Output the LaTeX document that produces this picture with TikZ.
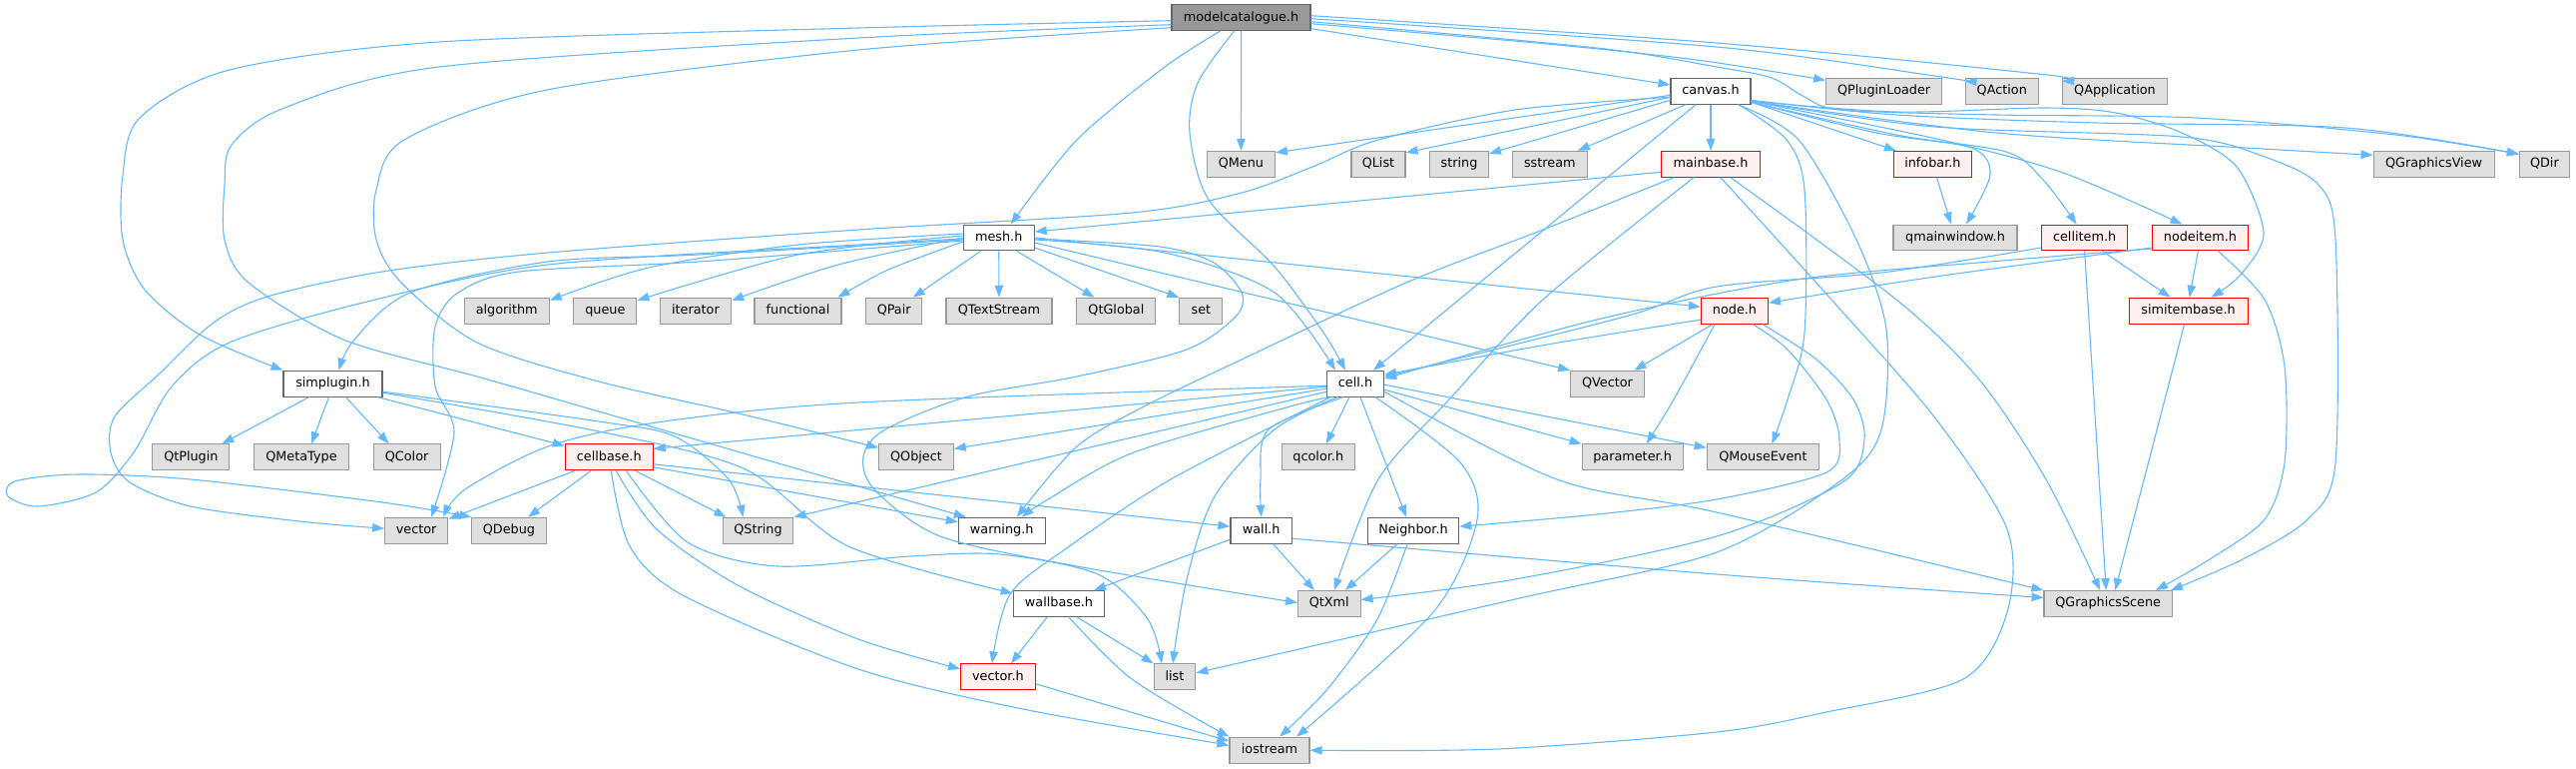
\documentclass[tikz,border=0pt]{standalone}
\usepackage{fontspec}
\setmainfont{DejaVu Sans}
\usepackage{tikz}
\usetikzlibrary{arrows.meta,positioning}
\definecolor{edgeblue}{HTML}{63B8FF}
\definecolor{hdrline}{HTML}{666666}
\definecolor{sysline}{HTML}{999999}
\definecolor{sysfill}{HTML}{E0E0E0}
\definecolor{truncfill}{HTML}{FFF0F0}
\definecolor{rootfill}{HTML}{999999}
\begin{document}
\begin{tikzpicture}[x=1pt,y=-1pt,
  every node/.style={font=\fontsize{12.8}{15}\selectfont,minimum height=25.8pt,inner sep=0pt,line width=1.1pt,text height=9.5pt,text depth=2.6pt},
  hdrbox/.style={draw=hdrline,fill=white},
  sysbox/.style={draw=sysline,fill=sysfill},
  redbox/.style={draw=red,fill=truncfill},
  rootbox/.style={draw=hdrline,fill=rootfill},
  incl/.style={draw=edgeblue,line width=1.1pt,-{Triangle[length=12pt,width=8.5pt]}}]
  \useasboundingbox (0,0) rectangle (2581,769);
  \node[rootbox,minimum width=139pt] (mc) at (1243.5,17.7) {modelcatalogue.h};
  \node[hdrbox,minimum width=80pt] (canvas) at (1714,91.3) {canvas.h};
  \node[sysbox,minimum width=116pt] (qpluginloader) at (1887.6,91.3) {QPluginLoader};
  \node[sysbox,minimum width=73.5pt] (qaction) at (2005.8,91.3) {QAction};
  \node[sysbox,minimum width=105pt] (qapplication) at (2119,91.3) {QApplication};
  \node[sysbox,minimum width=68pt] (qmenu) at (1243.4,164.3) {QMenu};
  \node[sysbox,minimum width=54pt] (qlist) at (1381,164.3) {QList};
  \node[sysbox,minimum width=59pt] (string) at (1462,164.3) {string};
  \node[sysbox,minimum width=75pt] (sstream) at (1552.8,164.3) {sstream};
  \node[redbox,minimum width=98.6pt] (mainbase) at (1714,164.3) {mainbase.h};
  \node[redbox,minimum width=78pt] (infobar) at (1936.4,164.3) {infobar.h};
  \node[sysbox,minimum width=121pt] (qgraphicsview) at (2438.6,164.3) {QGraphicsView};
  \node[sysbox,minimum width=50pt] (qdir) at (2549.4,164.3) {QDir};
  \node[hdrbox,minimum width=71pt] (mesh) at (1000.7,238) {mesh.h};
  \node[sysbox,minimum width=124pt] (qmainwindow) at (1959,238) {qmainwindow.h};
  \node[redbox,minimum width=85.6pt] (cellitem) at (2088.6,238) {cellitem.h};
  \node[redbox,minimum width=95.5pt] (nodeitem) at (2204.4,238) {nodeitem.h};
  \node[sysbox,minimum width=85pt] (algorithm) at (507.7,311.2) {algorithm};
  \node[sysbox,minimum width=63pt] (queue) at (606.4,311.2) {queue};
  \node[sysbox,minimum width=71pt] (iterator) at (697,311.2) {iterator};
  \node[sysbox,minimum width=87pt] (functional) at (799.5,311.2) {functional};
  \node[sysbox,minimum width=56pt] (qpair) at (895.7,311.2) {QPair};
  \node[sysbox,minimum width=106pt] (qtextstream) at (1001,311.2) {QTextStream};
  \node[sysbox,minimum width=79pt] (qtglobal) at (1118.4,311.2) {QtGlobal};
  \node[sysbox,minimum width=43pt] (set) at (1203.4,311.2) {set};
  \node[redbox,minimum width=67pt] (nodeh) at (1738,311.2) {node.h};
  \node[redbox,minimum width=119pt] (simitembase) at (2192.6,311.2) {simitembase.h};
  \node[hdrbox,minimum width=99pt] (simplugin) at (333.5,384.2) {simplugin.h};
  \node[hdrbox,minimum width=57pt] (cell) at (1358,384.2) {cell.h};
  \node[sysbox,minimum width=73.5pt] (qvector) at (1610.5,384.2) {QVector};
  \node[sysbox,minimum width=77pt] (qtplugin) at (191.4,457.8) {QtPlugin};
  \node[sysbox,minimum width=95pt] (qmetatype) at (302,457.8) {QMetaType};
  \node[sysbox,minimum width=67pt] (qcolor) at (407.6,457.8) {QColor};
  \node[redbox,minimum width=88pt] (cellbase) at (610.3,457.8) {cellbase.h};
  \node[sysbox,minimum width=74.6pt] (qobject) at (918,457.8) {QObject};
  \node[sysbox,minimum width=73.5pt] (qcolorh) at (1320.8,457.8) {qcolor.h};
  \node[sysbox,minimum width=101pt] (parameter) at (1635.6,457.8) {parameter.h};
  \node[sysbox,minimum width=112.4pt] (qmouseevent) at (1766.4,457.8) {QMouseEvent};
  \node[sysbox,minimum width=63pt] (vector) at (417.2,531.2) {vector};
  \node[sysbox,minimum width=74.6pt] (qdebug) at (510,531.2) {QDebug};
  \node[sysbox,minimum width=70.7pt] (qstring) at (759.5,531.2) {QString};
  \node[hdrbox,minimum width=86.7pt] (warning) at (1003.7,531.2) {warning.h};
  \node[hdrbox,minimum width=61.5pt] (wall) at (1263.7,531.2) {wall.h};
  \node[hdrbox,minimum width=91.6pt] (neighbor) at (1416,531.2) {Neighbor.h};
  \node[hdrbox,minimum width=91.6pt] (wallbase) at (1061,604.5) {wallbase.h};
  \node[sysbox,minimum width=62.5pt] (qtxml) at (1331.8,604.5) {QtXml};
  \node[sysbox,minimum width=128.4pt] (qgraphicsscene) at (2112.2,604.5) {QGraphicsScene};
  \node[redbox,minimum width=74.6pt] (vectorh) at (999.9,677.8) {vector.h};
  \node[sysbox,minimum width=41.7pt] (list) at (1177,677.8) {list};
  \node[sysbox,minimum width=80pt] (iostream) at (1272,751.2) {iostream};

  \draw[incl] plot[smooth] coordinates {([yshift=-3pt]mc.west) (860,28) (440,42) (230,70) (140,118) (123,175) (123,240) (145,290) (200,335) (simplugin.north west)};
  \draw[incl] plot[smooth] coordinates {([yshift=-7pt]mc.west) (860,38) (440,67) (285,108) (232,145) (225,185) (225,240) (249,283) (344,340) (478,377) (600,412) (780,464) ([xshift=8pt]warning.north west)};
  \draw[incl] plot[smooth] coordinates {([yshift=-10pt]mc.west) (860,50) (548,90) (405,140) (377,190) (377,240) (402,283) (478,343) (600,382) (740,414) ([yshift=-4pt]qobject.north west)};
  \draw[incl] plot[smooth] coordinates {([xshift=-21pt]mc.south) (1167,67) (1079,140) ([xshift=12pt]mesh.north)};
  \draw[incl] plot[smooth] coordinates {([xshift=-7pt]mc.south) (1200,83) (1192,133) (1211,200) (1277,267) (1326,333) ([xshift=-10pt]cell.north)};
  \draw[incl] (mc) -- (qmenu);
  \draw[incl] (mc) -- (canvas);
  \draw[incl] plot[smooth] coordinates {([yshift=-6pt]mc.east) (1550,44) (1700,60) ([yshift=11pt]qpluginloader.west)};
  \draw[incl] plot[smooth] coordinates {([yshift=-1pt]mc.east) (1720,47) (1945,77) ([yshift=10pt]qaction.west)};
  \draw[incl] plot[smooth] coordinates {([yshift=2pt]mc.east) (1720,43) (2051,75) ([yshift=10pt]qapplication.west)};
  \draw[incl] plot[smooth] coordinates {([yshift=-4pt]mc.east) (1600,48) (1720,67) (1775,78) (1808,97) (1846,110) (2000,115) (2200,118) (2400,135) ([yshift=10pt]qdir.west)};

  \draw[incl] ([yshift=-4pt]canvas.west) -- ([yshift=-2pt]qmenu.north east);
  \draw[incl] ([yshift=-6pt]canvas.west) -- ([yshift=-2pt]qlist.north east);
  \draw[incl] ([yshift=-9pt]canvas.west) -- ([yshift=-3pt]string.north east);
  \draw[incl] ([xshift=-25pt]canvas.south) -- ([xshift=-10pt]sstream.north east);
  \draw[incl] (canvas) -- (mainbase);
  \draw[incl] plot[smooth] coordinates {([yshift=-6pt]canvas.west) (1518,110) (1381,140) (1315,167) (1244,193) (1134,213) (860,230) (549,253) (383,272) (268,297) (214,323) (161,373) (115,417) (111,453) (130,483) (191,507) (300,522) ([yshift=2pt]vector.west)};
  \draw[incl] ([yshift=-11pt]canvas.east) -- ([xshift=3pt]infobar.north west);
  \draw[incl] plot[smooth] coordinates {([yshift=-11pt]canvas.east) (1880,133) (1975,148) (1994,175) ([xshift=11pt]qmainwindow.north)};
  \draw[incl] plot[smooth] coordinates {([yshift=-11pt]canvas.east) (1900,135) (2010,152) (2047,180) ([xshift=-8pt]cellitem.north)};
  \draw[incl] plot[smooth] coordinates {([yshift=-10pt]canvas.east) (1945,140) (2067,173) ([xshift=-18pt]nodeitem.north)};
  \draw[incl] plot[smooth] coordinates {([yshift=-10pt]canvas.east) (1900,112) (2049,108) (2120,113) (2186,133) (2241,167) (2268,233) (2245,275) ([xshift=23pt]simitembase.north)};
  \draw[incl] plot[smooth] coordinates {([yshift=-10pt]canvas.east) (2000,133) (2250,148) ([yshift=9pt]qgraphicsview.west)};
  \draw[incl] plot[smooth] coordinates {([yshift=-9pt]canvas.east) (1900,115) (2100,123) (2350,128) ([yshift=10pt]qdir.west)};
  \draw[incl] plot[smooth] coordinates {([yshift=-10pt]canvas.east) (1939,127) (2186,137) (2269,157) (2323,185) (2340,240) (2340,463) (2312,520) (2247,560) ([xshift=-2pt]qgraphicsscene.north east)};
  \draw[incl] plot[smooth] coordinates {([xshift=28pt]canvas.south) (1790,140) (1808,190) (1808,333) (1791,400) ([xshift=9pt]qmouseevent.north)};
  \draw[incl] ([xshift=-15pt]canvas.south) -- ([xshift=18pt]cell.north);
  \draw[incl] plot[smooth] coordinates {([xshift=27pt]canvas.south) (1802,140) (1860,240) (1890,330) (1885,430) (1846,480) (1720,553) (1518,600) ([yshift=4pt]list.east)};

  \draw[incl] ([yshift=-8pt]mainbase.west) -- ([yshift=6pt]mesh.east);
  \draw[incl] plot[smooth] coordinates {([xshift=-37pt]mainbase.south) (1546,230) (1409,283) (1244,360) (1150,405) (1079,447) ([xshift=15pt]warning.north)};
  \draw[incl] plot[smooth] coordinates {([xshift=-17pt]mainbase.south) (1546,300) (1452,400) (1381,480) ([xshift=5pt]qtxml.north)};
  \draw[incl] plot[smooth] coordinates {([xshift=20pt]mainbase.south) (1900,300) (1983,380) (2050,480) ([xshift=-8pt]qgraphicsscene.north)};
  \draw[incl] plot[smooth] coordinates {([xshift=10pt]mainbase.south) (1835,300) (1940,420) (2011,530) (2011,613) (1967,680) (1830,713) (1720,733) (1500,750) (iostream.east)};
  \draw[incl] (infobar) -- (qmainwindow);

  \draw[incl] plot[smooth] coordinates {([yshift=-10pt]cellitem.west) (1885,273) (1720,287) (1628,317) ([yshift=7pt]cell.east)};
  \draw[incl] ([xshift=18pt]cellitem.south) -- ([xshift=-18pt]simitembase.north);
  \draw[incl] (cellitem.south) -- ([xshift=-2pt]qgraphicsscene.north);
  \draw[incl] plot[smooth] coordinates {([yshift=-10pt]nodeitem.west) (1939,277) ([yshift=8pt]nodeh.east)};
  \draw[incl] plot[smooth] coordinates {([yshift=-11pt]nodeitem.west) (1994,262) (1800,280) (1600,320) ([yshift=5pt]cell.east)};
  \draw[incl] ([xshift=-2pt]nodeitem.south) -- ([xshift=1pt]simitembase.north);
  \draw[incl] plot[smooth] coordinates {([xshift=18pt]nodeitem.south) (2269,300) (2289,367) (2289,463) (2269,520) (2214,560) ([xshift=-17pt]qgraphicsscene.north east)};
  \draw[incl] ([xshift=-4pt]simitembase.south) -- ([xshift=7pt]qgraphicsscene.north);

  \draw[incl] ([xshift=-22pt]nodeh.south) -- ([xshift=27pt]qvector.north);
  \draw[incl] plot[smooth] coordinates {([yshift=-9pt]nodeh.west) (1550,345) ([yshift=9pt]cell.east)};
  \draw[incl] plot[smooth] coordinates {([xshift=-20pt]nodeh.south) (1677,400) ([xshift=14pt]parameter.north)};
  \draw[incl] plot[smooth] coordinates {([xshift=18pt]nodeh.south) (1791,350) (1830,400) (1843,440) (1830,473) (1720,500) (1600,515) ([yshift=4pt]neighbor.east)};
  \draw[incl] plot[smooth] coordinates {([xshift=28pt]nodeh.south) (1820,360) (1857,400) (1868,440) (1846,483) (1720,537) (1518,580) ([yshift=4pt]qtxml.east)};

  \draw[incl] ([yshift=-3pt]cell.west) -- ([yshift=-5pt]cellbase.north east);
  \draw[incl] ([yshift=-5pt]cell.west) -- ([yshift=-5pt]qobject.north east);
  \draw[incl] ([yshift=-8pt]cell.west) -- (qstring.north east);
  \draw[incl] plot[smooth] coordinates {([xshift=-22pt]cell.south) (1300,405) (1136,453) (1050,500) ([xshift=20pt]warning.north)};
  \draw[incl] plot[smooth] coordinates {([yshift=-2pt]cell.west) (860,403) (658,423) (549,447) (466,490) ([xshift=27pt]vector.north)};
  \draw[incl] plot[smooth] coordinates {([xshift=-25pt]cell.south) (1173,480) (1070,548) (1012,595) ([xshift=-6pt]vectorh.north)};
  \draw[incl] plot[smooth] coordinates {([xshift=-18pt]cell.south) (1277,430) (1217,497) (1189,580) ([xshift=-2pt]list.north)};
  \draw[incl] plot[smooth] coordinates {([xshift=-12pt]cell.south) (1271,430) (1263,480) (wall.north)};
  \draw[incl] ([xshift=-6pt]cell.south) -- ([xshift=8pt]qcolorh.north);
  \draw[incl] ([xshift=5pt]cell.south) -- ([xshift=-7pt]neighbor.north);
  \draw[incl] plot[smooth] coordinates {([xshift=20pt]cell.south) (1463,463) (1480,520) (1436,613) ([xshift=27pt]iostream.north)};
  \draw[incl] ([yshift=-6pt]cell.east) -- (parameter.north west);
  \draw[incl] ([yshift=-1pt]cell.east) -- ([yshift=-4pt]qmouseevent.north west);
  \draw[incl] plot[smooth] coordinates {([yshift=-8pt]cell.east) (1560,480) (1720,513) (qgraphicsscene.north west)};

  \draw[incl] plot[smooth] coordinates {([yshift=4pt]mesh.west) (800,245) (650,268) ([yshift=-3pt]algorithm.north east)};
  \draw[incl] plot[smooth] coordinates {([yshift=2pt]mesh.west) (800,255) ([yshift=-3pt]queue.north east)};
  \draw[incl] plot[smooth] coordinates {(mesh.west) (840,265) ([yshift=-3pt]iterator.north east)};
  \draw[incl] plot[smooth] coordinates {([yshift=-4pt]mesh.west) (890,270) ([xshift=-4pt]functional.north east)};
  \draw[incl] ([xshift=-18pt]mesh.south) -- ([xshift=19pt]qpair.north);
  \draw[incl] (mesh) -- (qtextstream);
  \draw[incl] ([xshift=18pt]mesh.south) -- ([xshift=-22pt]qtglobal.north);
  \draw[incl] ([yshift=-10pt]mesh.east) -- (set.north west);
  \draw[incl] plot[smooth] coordinates {([yshift=-2pt]mesh.west) (700,255) (549,262) (411,293) (355,340) ([xshift=6pt]simplugin.north)};
  \draw[incl] plot[smooth] coordinates {([yshift=-3pt]mesh.west) (700,262) (520,272) (459,293) (436,327) (436,387) (455,433) ([xshift=15pt]vector.north)};
  \draw[incl] plot[smooth] coordinates {([yshift=-1pt]mesh.west) (860,245) (549,265) (364,303) (230,343) (172,387) (134,453) (96,493) (38,507) (8,497) (15,482) (77,475) (191,480) (383,503) (qdebug.north west)};
  \draw[incl] plot[smooth] coordinates {([yshift=-2pt]mesh.east) (1167,253) (1277,293) ([xshift=-20pt]cell.north)};
  \draw[incl] ([yshift=-5pt]mesh.east) -- (qvector.north west);
  \draw[incl] (mesh.east) -- ([yshift=4pt]nodeh.west);
  \draw[incl] plot[smooth] coordinates {([yshift=-1pt]mesh.east) (1162,247) (1216,263) (1244,293) (1238,317) (1189,350) (1079,377) (970,397) (887,430) (865,457) (876,490) (942,537) (1079,567) ([yshift=1pt]qtxml.west)};

  \draw[incl] ([xshift=-24pt]simplugin.south) -- ([xshift=31pt]qtplugin.north);
  \draw[incl] ([xshift=-4pt]simplugin.south) -- ([xshift=10pt]qmetatype.north);
  \draw[incl] ([xshift=13pt]simplugin.south) -- ([xshift=-18pt]qcolor.north);
  \draw[incl] ([xshift=45pt]simplugin.south) -- ([yshift=-2pt]cellbase.north west);
  \draw[incl] plot[smooth] coordinates {([yshift=-8pt]simplugin.east) (600,422) (676,437) (730,480) ([xshift=-15pt]qstring.north)};
  \draw[incl] plot[smooth] coordinates {([yshift=-9pt]simplugin.east) (600,432) (747,470) (850,547) ([yshift=-3pt]wallbase.north west)};

  \draw[incl] ([xshift=-34pt]cellbase.south) -- ([yshift=-2pt]vector.north east);
  \draw[incl] ([xshift=-18pt]cellbase.south) -- ([xshift=19pt]qdebug.north);
  \draw[incl] ([xshift=26pt]cellbase.south) -- ([xshift=-32pt]qstring.north);
  \draw[incl] ([yshift=-10pt]cellbase.east) -- ([yshift=-5pt]warning.north west);
  \draw[incl] ([yshift=-7pt]cellbase.east) -- ([yshift=4pt]wall.west);
  \draw[incl] plot[smooth] coordinates {([xshift=17pt]cellbase.south) (689,543) (779,567) (912,557) (1002,555) (1100,575) (1150,620) ([xshift=-13pt]list.north)};
  \draw[incl] plot[smooth] coordinates {([xshift=7pt]cellbase.south) (658,530) (741,587) (860,640) ([yshift=8pt]vectorh.west)};
  \draw[incl] plot[smooth] coordinates {([xshift=2pt]cellbase.south) (631,547) (686,597) (860,670) (1025,710) ([yshift=5pt]iostream.west)};

  \draw[incl] ([yshift=-9pt]wall.west) -- ([xshift=35pt]wallbase.north);
  \draw[incl] ([xshift=12pt]wall.south) -- ([xshift=-15pt]qtxml.north);
  \draw[incl] plot[smooth] coordinates {([yshift=-8pt]wall.east) (1720,575) ([yshift=6pt]qgraphicsscene.west)};
  \draw[incl] ([xshift=-16pt]neighbor.south) -- ([xshift=16pt]qtxml.north);
  \draw[incl] plot[smooth] coordinates {([xshift=-6pt]neighbor.south) (1380,620) (1330,690) ([xshift=10pt]iostream.north)};
  \draw[incl] ([xshift=-12pt]wallbase.south) -- ([xshift=13pt]vectorh.north);
  \draw[incl] ([xshift=18pt]wallbase.south) -- (list.north west);
  \draw[incl] plot[smooth] coordinates {([xshift=10pt]wallbase.south) (1134,680) (iostream.north west)};
  \draw[incl] ([yshift=-7pt]vectorh.east) -- ([yshift=9pt]iostream.west);
\end{tikzpicture}
\end{document}
